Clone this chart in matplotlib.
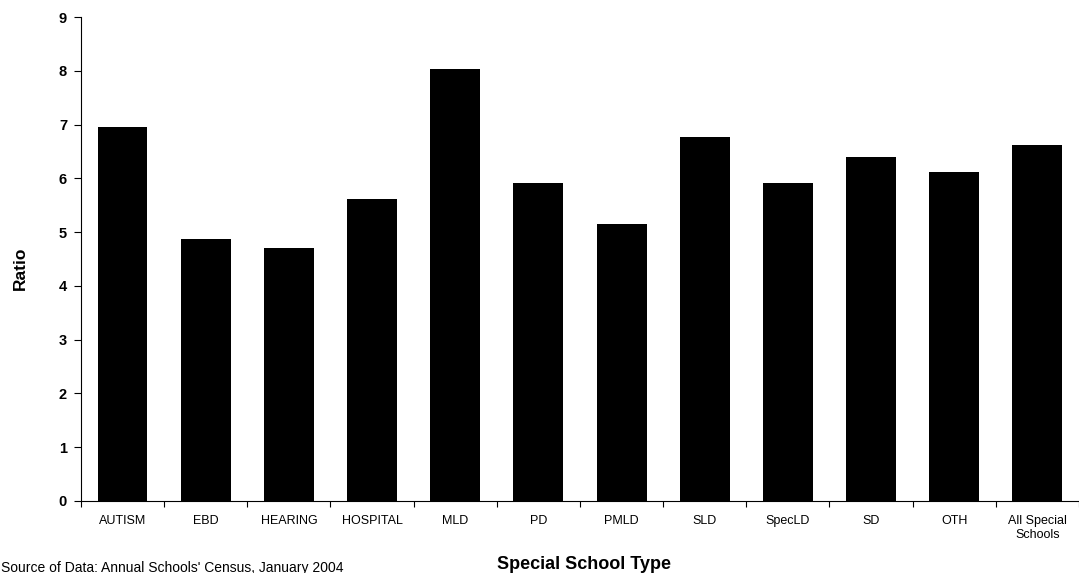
import numpy as np
from matplotlib import pyplot as plt

plt.rcParams['font.family'] = ['Liberation Sans', 'DejaVu Sans']

categories = ['AUTISM', 'EBD', 'HEARING', 'HOSPITAL', 'MLD', 'PD', 'PMLD',
              'SLD', 'SpecLD', 'SD', 'OTH', 'All Special\nSchools']
ratio = [6.95, 4.88, 4.70, 5.62, 8.03, 5.92, 5.15, 6.77, 5.91, 6.39, 6.12, 6.62]

fig = plt.figure(figsize=(10.79, 5.73), dpi=100, facecolor='white')
ax = fig.add_axes([0.075, 0.1257, 0.925, 0.8443])

x = np.arange(len(categories))
ax.bar(x, ratio, width=0.6, color='black')

ax.set_xlim(-0.5, len(categories) - 0.5)
ax.set_ylim(0, 9)
ax.set_yticks(range(10))
ax.tick_params(axis='y', direction='out', length=5, width=0.8, pad=5, labelsize=10.5)
for lab in ax.get_yticklabels():
    lab.set_fontweight('bold')

# labels under the bars, tick marks between them
ax.set_xticks(x)
ax.set_xticklabels(categories, fontsize=9, linespacing=1.25, va='top')
ax.tick_params(axis='x', which='major', length=0, pad=10)
ax.set_xticks(np.arange(-0.5, len(categories)), minor=True)
ax.tick_params(axis='x', which='minor', direction='out', length=4, width=0.8)

for s in ['top', 'right']:
    ax.spines[s].set_visible(False)
ax.spines['left'].set_linewidth(0.8)
ax.spines['bottom'].set_linewidth(0.8)

fig.text(0.019, 0.532, 'Ratio', rotation=90, ha='center', va='center',
         fontsize=12.5, fontweight='bold')
fig.text(0.541, 0.015, 'Special School Type', ha='center', va='center',
         fontsize=13, fontweight='bold')
fig.text(0.001, 0.009, "Source of Data: Annual Schools' Census, January 2004",
         ha='left', va='center', fontsize=10)

fig.savefig('out.png', dpi=100, facecolor='white')
